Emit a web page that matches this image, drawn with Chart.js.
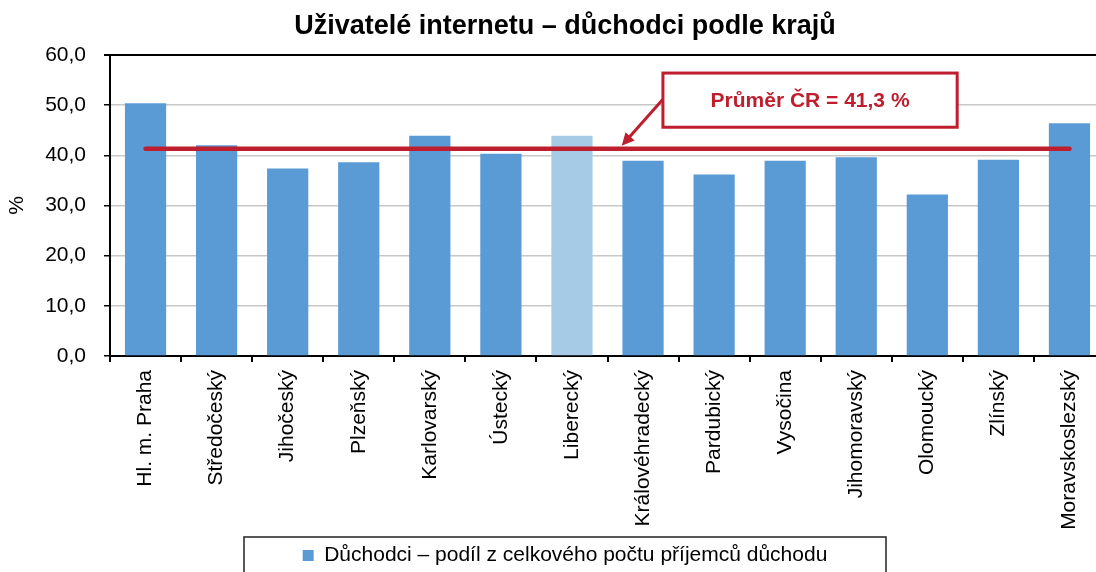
<!doctype html>
<html lang="cs">
  <head>
    <meta charset="utf-8">
    <title>Uživatelé internetu – důchodci podle krajů</title>
    <script src="https://cdn.jsdelivr.net/npm/chart.js"></script>
    <style>
      html, body { margin: 0; padding: 0; background: #fff; overflow: hidden; }
      .wrap { width: 1130px; height: 590px; position: relative; }
    </style>
  </head>
  <body>
    <div class="wrap">
      <canvas id="kraje"></canvas>
    </div>
    <script>
      // data
      const regions = ['Hl. m. Praha', 'Středočeský', 'Jihočeský', 'Plzeňský', 'Karlovarský', 'Ústecký',
        'Liberecký', 'Královéhradecký', 'Pardubický', 'Vysočina', 'Jihomoravský', 'Olomoucký', 'Zlínský',
        'Moravskoslezský'];
      const pensionerShare = [50.4, 42.0, 37.4, 38.6, 43.9, 40.3, 43.9, 38.9, 36.2, 38.9, 39.6, 32.2, 39.1, 46.4];
      const czAverage = 41.3;
      const averageLine = regions.map(() => czAverage);
      const yTicks = [0, 10, 20, 30, 40, 50, 60];

      const BLUE = '#5B9BD5';
      const LIGHT = '#A6CBE7';
      const RED = '#BE1E2D';
      const FONT = '"Liberation Sans", Arial, sans-serif';
      const fmt = v => v.toFixed(1).replace('.', ',');

      // callout box + arrow and the frame round the legend
      const extras = {
        id: 'extras',
        afterDraw(chart) {
          const ctx = chart.ctx;
          const x = chart.scales.x, y = chart.scales.y;
          // callout
          const bx1 = x.getPixelForValue(7.28), bx2 = x.getPixelForValue(11.42);
          const by1 = y.getPixelForValue(56.4), by2 = y.getPixelForValue(45.6);
          const sx = bx1, sy = y.getPixelForValue(51.2);
          const tx = x.getPixelForValue(6.70), ty = y.getPixelForValue(41.9);
          ctx.save();
          ctx.strokeStyle = RED;
          ctx.fillStyle = RED;
          ctx.lineWidth = 3;
          ctx.beginPath();
          ctx.moveTo(sx, sy);
          const ang = Math.atan2(ty - sy, tx - sx);
          ctx.lineTo(tx - Math.cos(ang) * 8, ty - Math.sin(ang) * 8);
          ctx.stroke();
          ctx.beginPath();
          ctx.moveTo(tx, ty);
          ctx.lineTo(tx - Math.cos(ang - 0.45) * 14, ty - Math.sin(ang - 0.45) * 14);
          ctx.lineTo(tx - Math.cos(ang + 0.45) * 14, ty - Math.sin(ang + 0.45) * 14);
          ctx.closePath();
          ctx.fill();
          ctx.fillStyle = '#fff';
          ctx.fillRect(bx1, by1, bx2 - bx1, by2 - by1);
          ctx.strokeRect(bx1, by1, bx2 - bx1, by2 - by1);
          ctx.fillStyle = RED;
          ctx.font = 'bold 21px ' + FONT;
          ctx.textAlign = 'center';
          ctx.textBaseline = 'middle';
          ctx.fillText('Průměr ČR = ' + fmt(czAverage) + ' %', (bx1 + bx2) / 2, (by1 + by2) / 2 + 1);
          // legend frame
          const lg = chart.legend;
          const cx = lg.left + lg.width / 2;
          ctx.strokeStyle = '#222';
          ctx.lineWidth = 1.5;
          ctx.strokeRect(cx - 321, lg.top + 2, 642, lg.height + 10);
          ctx.restore();
        }
      };

      new Chart(document.getElementById('kraje'), {
        data: {
          labels: regions,
          datasets: [
            {
              type: 'line',
              label: 'Průměr ČR',
              data: averageLine,
              borderColor: RED,
              borderWidth: 4.5,
              borderCapStyle: 'round',
              pointRadius: 0,
              fill: false,
              order: 0
            },
            {
              type: 'bar',
              label: 'Důchodci – podíl z celkového počtu příjemců důchodu',
              data: pensionerShare,
              backgroundColor: c => (c.dataIndex === 6 ? LIGHT : BLUE),
              borderWidth: 0,
              categoryPercentage: 1,
              barPercentage: 0.58,
              order: 1
            }
          ]
        },
        options: {
          responsive: true,
          maintainAspectRatio: false,
          animation: false,
          layout: { padding: { left: 25, right: 25, top: 0, bottom: 14 } },
          plugins: {
            title: {
              display: true,
              text: 'Uživatelé internetu – důchodci podle krajů',
              color: '#000',
              font: { family: FONT, size: 27, weight: 'bold' },
              padding: { top: 10, bottom: 12.6 }
            },
            legend: {
              position: 'bottom',
              labels: {
                color: '#000',
                font: { family: FONT, size: 21 },
                boxWidth: 11,
                boxHeight: 11,
                padding: 10,
                filter: item => item.datasetIndex === 1
              }
            },
            tooltip: { enabled: false }
          },
          scales: {
            x: {
              grid: { offset: true, drawOnChartArea: false, tickLength: 6, tickColor: '#000', lineWidth: 2 },
              border: { color: '#000', width: 2 },
              ticks: {
                color: '#000',
                font: { family: FONT, size: 21 },
                minRotation: 90,
                maxRotation: 90,
                padding: 8,
                autoSkip: false
              },
              afterFit: s => { s.height = 179; }
            },
            y: {
              min: 0,
              max: 60,
              afterBuildTicks: s => { s.ticks = yTicks.map(v => ({ value: v })); },
              grid: {
                color: c => (c.tick && c.tick.value === 60 ? '#000' : '#C8C8C8'),
                lineWidth: c => (c.tick && c.tick.value === 60 ? 2 : 1.5),
                tickLength: 6,
                tickColor: '#000'
              },
              border: { color: '#000', width: 2 },
              ticks: {
                color: '#000',
                font: { family: FONT, size: 21 },
                padding: 18,
                callback: v => fmt(v)
              },
              title: {
                display: true,
                text: '%',
                color: '#000',
                font: { family: FONT, size: 21 },
                padding: { top: -20, bottom: 0 }
              },
              afterFit: s => { s.width = 85; }
            }
          }
        },
        plugins: [extras]
      });
    </script>
  </body>
</html>
